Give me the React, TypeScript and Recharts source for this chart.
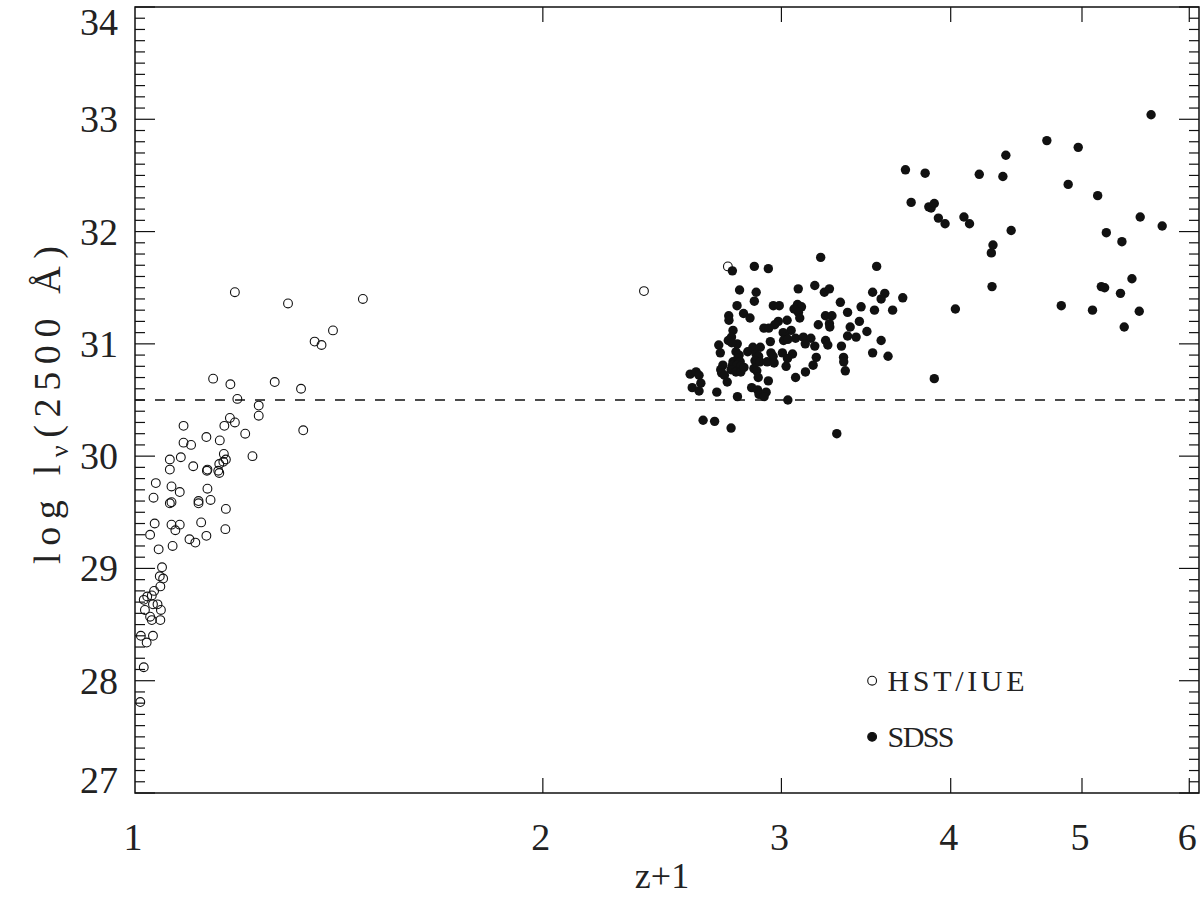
import React from 'react';
import {
  ScatterChart,
  Scatter,
  XAxis,
  YAxis,
  ReferenceLine,
  ReferenceArea,
  ReferenceDot,
  Label,
} from 'recharts';

// ---- data: HST/IUE (open circles) ----
const hstZ1 = [
  1.185, 1.297, 1.473, 1.4, 1.357, 1.373, 1.142, 1.176, 1.268, 1.326,
  1.19, 1.234, 1.234, 1.175, 1.164, 1.185, 1.086, 1.331, 1.206, 1.129,
  1.086, 1.1, 1.155, 1.163, 1.221, 1.061, 1.081, 1.167, 1.162, 1.154,
  1.152, 1.154, 1.13, 1.131, 1.104, 1.061, 1.036, 1.064, 1.079, 1.131,
  1.032, 1.061, 1.064, 1.114, 1.114, 1.137, 1.167, 1.034, 1.064, 1.079,
  1.119, 1.166, 1.071, 1.026, 1.097, 1.108, 1.129, 1.041, 1.066, 1.047,
  1.043, 1.049, 1.044, 1.033, 1.029, 1.021, 1.015, 1.031, 1.039, 1.017,
  1.045, 1.026, 1.029, 1.044, 1.01, 1.02, 1.031, 1.015, 1.009, 2.375,
  2.739,
];
const hstLogL = [
  31.46, 31.36, 31.4, 31.12, 31.02, 30.99, 30.69, 30.64, 30.66, 30.6,
  30.51, 30.45, 30.36, 30.34, 30.27, 30.3, 30.27, 30.23, 30.2, 30.17,
  30.12, 30.1, 30.14, 30.02, 30.0, 29.97, 29.99, 29.97, 29.95, 29.93,
  29.87, 29.85, 29.87, 29.88, 29.91, 29.88, 29.76, 29.73, 29.68, 29.71,
  29.63, 29.58, 29.59, 29.6, 29.58, 29.61, 29.53, 29.4, 29.39, 29.39,
  29.41, 29.35, 29.34, 29.3, 29.26, 29.23, 29.29, 29.17, 29.2, 29.01,
  28.93, 28.91, 28.84, 28.8, 28.76, 28.75, 28.72, 28.68, 28.68, 28.63,
  28.63, 28.57, 28.54, 28.54, 28.4, 28.34, 28.4, 28.12, 27.81, 31.47,
  31.69,
];

// ---- data: SDSS (filled circles) ----
const sdssZ1 = [
  3.207, 2.76, 2.865, 2.934, 3.527, 3.175, 2.794, 2.874, 3.087, 3.227,
  3.255, 3.503, 3.576, 3.554, 3.687, 2.865, 3.316, 2.782, 2.959, 2.989,
  3.083, 3.104, 3.065, 3.088, 3.435, 3.514, 3.624, 3.357, 2.813, 2.743,
  2.744, 2.844, 3.095, 3.233, 3.269, 3.425, 2.984, 2.966, 3.029, 3.194,
  3.255, 3.257, 3.372, 2.912, 2.936, 2.763, 3.05, 3.469, 3.357, 3.406,
  3.009, 3.023, 3.011, 3.033, 3.073, 2.756, 2.741, 3.114, 3.154, 3.124,
  2.944, 3.234, 3.246, 3.554, 2.783, 2.757, 3.175, 2.697, 2.704, 3.322,
  2.858, 2.894, 2.833, 3.503, 2.947, 2.958, 3.005, 3.057, 3.031, 2.873,
  2.886, 2.868, 2.893, 2.863, 2.877, 3.596, 3.183, 3.334, 3.335, 2.777,
  2.792, 2.785, 2.763, 2.797, 2.761, 2.782, 2.8, 2.754, 2.777, 2.8,
  2.815, 2.928, 2.963, 2.716, 2.706, 2.71, 2.723, 3.024, 3.166, 3.344,
  3.125, 2.736, 2.884, 2.934, 3.073, 2.569, 2.595, 2.608, 2.616, 2.578,
  2.608, 2.688, 2.784, 2.852, 2.881, 2.888, 2.923, 2.913, 3.033, 2.626,
  2.678, 2.754, 3.296, 3.704, 3.83, 4.199, 4.371, 4.393, 4.71, 3.74,
  3.854, 3.869, 3.89, 3.917, 3.962, 4.091, 4.13, 4.433, 4.298, 4.286,
  4.291, 4.032, 3.89, 5.623, 4.968, 4.884, 5.135, 5.52, 5.73, 5.211,
  5.351, 5.443, 5.167, 5.196, 5.338, 4.827, 5.09, 5.511, 5.372,
];
const sdssLogL = [
  31.77, 31.65, 31.69, 31.67, 31.69, 31.52, 31.48, 31.46, 31.49, 31.46,
  31.49, 31.46, 31.45, 31.4, 31.41, 31.38, 31.37, 31.34, 31.34, 31.34,
  31.35, 31.33, 31.31, 31.28, 31.33, 31.3, 31.3, 31.28, 31.27, 31.25,
  31.21, 31.23, 31.23, 31.25, 31.25, 31.2, 31.2, 31.17, 31.21, 31.17,
  31.18, 31.15, 31.15, 31.14, 31.14, 31.12, 31.12, 31.11, 31.07, 31.06,
  31.1, 31.06, 31.03, 31.04, 31.05, 31.06, 31.03, 31.06, 31.05, 31.0,
  31.02, 31.03, 30.99, 31.03, 31.0, 31.01, 30.98, 30.99, 30.92, 30.98,
  30.97, 30.97, 30.93, 30.92, 30.92, 30.89, 30.92, 30.91, 30.87, 30.91,
  30.89, 30.85, 30.84, 30.78, 30.76, 30.89, 30.88, 30.88, 30.84, 30.93,
  30.9, 30.87, 30.84, 30.84, 30.81, 30.81, 30.8, 30.77, 30.75, 30.75,
  30.79, 30.84, 30.83, 30.81, 30.77, 30.74, 30.72, 30.8, 30.81, 30.76,
  30.75, 30.66, 30.7, 30.67, 30.7, 30.73, 30.75, 30.72, 30.65, 30.61,
  30.58, 30.57, 30.53, 30.61, 30.59, 30.55, 30.57, 30.53, 30.5, 30.32,
  30.31, 30.25, 30.2, 32.55, 32.52, 32.51, 32.49, 32.68, 32.81, 32.26,
  32.22, 32.21, 32.25, 32.12, 32.07, 32.13, 32.07, 32.01, 31.88, 31.81,
  31.51, 31.31, 30.69, 33.04, 32.75, 32.42, 32.32, 32.13, 32.05, 31.99,
  31.91, 31.58, 31.51, 31.5, 31.45, 31.34, 31.3, 31.29, 31.15,
];

// ---- axes / annotations ----
const xTicks = [1, 2, 3, 4, 5, 6];
const xDomain = [1, 6.1];
const yMajorTicks = [27, 28, 29, 30, 31, 32, 33, 34];
const yDomain = [27, 34];
const thresholdLogL = 30.5;
const legendZ1 = 3.5;
const legendItems = [
  { name: 'HST/IUE', logL: 28.0, filled: false },
  { name: 'SDSS', logL: 27.5, filled: true },
];

const yTicks: number[] = [];
yMajorTicks.forEach((m, i) => {
  if (i < yMajorTicks.length - 1) {
    for (let k = 0; k < 10; k++) yTicks.push(Math.round((m + k / 10) * 10) / 10);
  } else {
    yTicks.push(m);
  }
});

const hstData = hstZ1.map((z, i) => ({ x: z, y: hstLogL[i] }));
const sdssData = sdssZ1.map((z, i) => ({ x: z, y: sdssLogL[i] }));

const W = 1204;
const H = 899;
// plot area: left 135, top 7, right 1199, bottom 793
const M = { top: 7, right: 5, bottom: 105, left: 134 };
const PW = 1064;
const PH = 786;
const FONT = '"Liberation Serif", "Times New Roman", serif';
const INK = '#111';
const TXT = '#222';
const R = 4.4;

const YTick = (props: any) => {
  const { x, y, payload } = props;
  const v = payload.value;
  const major = Math.abs(v - Math.round(v)) < 1e-6;
  const len = major ? 20 : 10;
  let dy = 13;
  if (major && v === yDomain[1]) dy = 28;
  if (major && v === yDomain[0]) dy = 0;
  return (
    <g>
      <line x1={x} y1={y} x2={x + len} y2={y} stroke={INK} strokeWidth={1.2} />
      <line x1={x + PW} y1={y} x2={x + PW - len} y2={y} stroke={INK} strokeWidth={1.2} />
      {major && (
        <text x={x - 17} y={y + dy} textAnchor="end" fontFamily={FONT} fontSize={38} fill={TXT}>
          {v}
        </text>
      )}
    </g>
  );
};

const XTick = (props: any) => {
  const { x, y, payload } = props;
  const v = payload.value;
  const edge = v === xDomain[0];
  return (
    <g>
      {!edge && <line x1={x} y1={y} x2={x} y2={y - 15} stroke={INK} strokeWidth={1.2} />}
      {!edge && <line x1={x} y1={y - PH} x2={x} y2={y - PH + 15} stroke={INK} strokeWidth={1.2} />}
      <text x={x - 2} y={y + 57} textAnchor="middle" fontFamily={FONT} fontSize={38} fill={TXT}>
        {v}
      </text>
    </g>
  );
};

const XTitle = (props: any) => {
  const vb = props.viewBox || { x: 135, y: 793, width: PW };
  return (
    <text
      x={vb.x + vb.width / 2 - 5}
      y={793 + 95}
      textAnchor="middle"
      fontFamily={FONT}
      fontSize={36}
      fill={TXT}
    >
      z+1
    </text>
  );
};

const YTitle = (props: any) => {
  const vb = props.viewBox || { x: 135, y: 7, height: PH };
  const cx = 60;
  const cy = vb.y + vb.height / 2 + 5;
  return (
    <text
      x={cx}
      y={cy}
      transform={`rotate(-90 ${cx} ${cy})`}
      textAnchor="middle"
      fontFamily={FONT}
      fontSize={38}
      fill={TXT}
      textLength={318}
      lengthAdjust="spacing"
    >
      <tspan>log l</tspan>
      <tspan dy={8} fontSize={26}>ν</tspan>
      <tspan dy={-8}>(2500 Å)</tspan>
    </text>
  );
};

const OpenDot = (p: any) => (
  <circle cx={p.cx} cy={p.cy} r={R} fill="none" stroke={INK} strokeWidth={1.1} />
);
const FilledDot = (p: any) => <circle cx={p.cx} cy={p.cy} r={R + 0.3} fill={INK} />;

const legendLabel = (name: string) => (props: any) => {
  const vb = props.viewBox;
  return (
    <text
      x={vb.x + vb.width + 11}
      y={vb.y + vb.height / 2 + 10}
      fontFamily={FONT}
      fontSize={30}
      fill={TXT}
      textLength={name.length > 4 ? 137 : 67}
      lengthAdjust="spacing"
    >
      {name}
    </text>
  );
};

export default function App() {
  return (
    <div style={{ position: 'absolute', left: 0, top: 0, width: W, height: H, background: '#fff' }}>
      <ScatterChart width={W} height={H} margin={M}>
        <XAxis
          type="number"
          dataKey="x"
          scale="log"
          domain={xDomain}
          ticks={xTicks}
          interval={0}
          allowDataOverflow
          tick={XTick}
          tickLine={false}
          axisLine={false}
          tickSize={0}
          tickMargin={0}
          height={1}
        >
          <Label content={XTitle} />
        </XAxis>
        <YAxis
          type="number"
          dataKey="y"
          domain={yDomain}
          ticks={yTicks}
          interval={0}
          allowDataOverflow
          tick={YTick}
          tickLine={false}
          axisLine={false}
          tickSize={0}
          tickMargin={0}
          width={1}
        >
          <Label content={YTitle} />
        </YAxis>
        <ReferenceArea
          x1={xDomain[0]}
          x2={xDomain[1]}
          y1={yDomain[0]}
          y2={yDomain[1]}
          fill="none"
          fillOpacity={0}
          stroke={INK}
          strokeWidth={1.5}
        />
        <ReferenceLine y={thresholdLogL} stroke={INK} strokeWidth={1.3} strokeDasharray="10 10" />
        <Scatter data={hstData} shape={OpenDot} isAnimationActive={false} />
        <Scatter data={sdssData} shape={FilledDot} isAnimationActive={false} />
        {legendItems.map((it) => (
          <ReferenceDot
            key={it.name}
            x={legendZ1}
            y={it.logL}
            r={R}
            fill={it.filled ? INK : 'none'}
            stroke={INK}
            strokeWidth={1.1}
            label={legendLabel(it.name)}
          />
        ))}
      </ScatterChart>
    </div>
  );
}
